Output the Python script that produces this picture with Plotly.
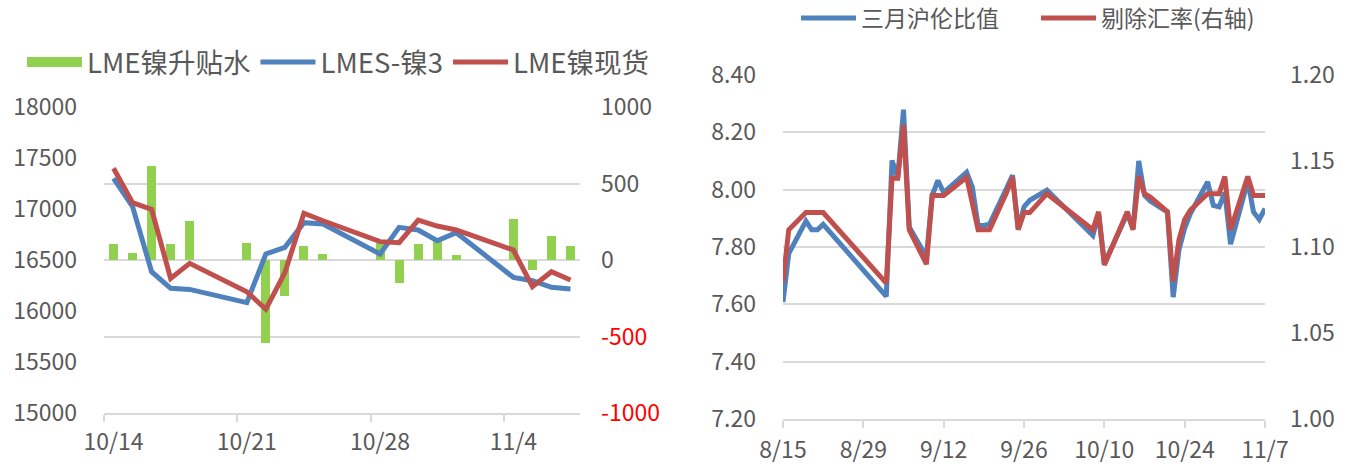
import datetime as _dt
import plotly.graph_objects as go

# ---------------- data: left chart ----------------
left_dates = ["2019-10-14", "2019-10-15", "2019-10-16", "2019-10-17", "2019-10-18",
              "2019-10-21", "2019-10-22", "2019-10-23", "2019-10-24", "2019-10-25",
              "2019-10-28", "2019-10-29", "2019-10-30", "2019-10-31", "2019-11-01",
              "2019-11-04", "2019-11-05", "2019-11-06", "2019-11-07"]
spread = [105, 46, 614, 105, 255, 113, -545, -235, 92, 39,
          110, -148, 105, 130, 33, 268, -65, 157, 92]
lmes3 = [17301, 17023, 16385, 16222, 16212, 16082, 16559, 16624, 16866, 16853,
         16559, 16820, 16794, 16689, 16768, 16330, 16297, 16232, 16216]
spot = [17399, 17062, 16997, 16320, 16467, 16189, 16017, 16376, 16958, 16885,
        16680, 16670, 16892, 16833, 16794, 16598, 16238, 16385, 16304]
left_tick_dates = ["2019-10-14", "2019-10-21", "2019-10-28", "2019-11-04"]
left_tick_text = ["10/14", "10/21", "10/28", "11/4"]
left_y_ticks = [15000, 15500, 16000, 16500, 17000, 17500, 18000]
spread_ticks = [-1000, -500, 0, 500, 1000]

# ---------------- data: right chart ----------------
right_dates = ["2019-08-15", "2019-08-16", "2019-08-19", "2019-08-20", "2019-08-21",
               "2019-08-22", "2019-09-02", "2019-09-03", "2019-09-04", "2019-09-05",
               "2019-09-06", "2019-09-09", "2019-09-10", "2019-09-11", "2019-09-12",
               "2019-09-16", "2019-09-17", "2019-09-18", "2019-09-19", "2019-09-20",
               "2019-09-23", "2019-09-24", "2019-09-25", "2019-09-26", "2019-09-27",
               "2019-09-30", "2019-10-08", "2019-10-09", "2019-10-10", "2019-10-14",
               "2019-10-15", "2019-10-16", "2019-10-17", "2019-10-18", "2019-10-21",
               "2019-10-22", "2019-10-23", "2019-10-24", "2019-10-25", "2019-10-28",
               "2019-10-29", "2019-10-30", "2019-10-31", "2019-11-01", "2019-11-04",
               "2019-11-05", "2019-11-06", "2019-11-07"]
ratio = [7.608, 7.777, 7.890, 7.860, 7.860, 7.879, 7.628, 8.102, 8.042, 8.279,
         7.870, 7.765, 7.980, 8.032, 7.990, 8.061, 8.009, 7.875, 7.875, 7.880,
         8.006, 8.050, 7.862, 7.940, 7.963, 7.998, 7.840, 7.915, 7.742, 7.916,
         7.865, 8.100, 7.980, 7.960, 7.922, 7.625, 7.790, 7.865, 7.917, 8.027,
         7.945, 7.940, 7.990, 7.810, 8.030, 7.922, 7.896, 7.934]
ex_fx = [1.080, 1.110, 1.120, 1.120, 1.120, 1.120, 1.079, 1.140, 1.140, 1.171,
         1.110, 1.090, 1.130, 1.130, 1.130, 1.1405, 1.126, 1.110, 1.110, 1.110,
         1.132, 1.1405, 1.110, 1.120, 1.120, 1.131, 1.110, 1.1205, 1.0895, 1.1205,
         1.110, 1.141, 1.131, 1.129, 1.1205, 1.080, 1.104, 1.116, 1.1215, 1.131,
         1.131, 1.131, 1.141, 1.110, 1.141, 1.130, 1.130, 1.130]
right_tick_dates = ["2019-08-15", "2019-08-29", "2019-09-12", "2019-09-26",
                    "2019-10-10", "2019-10-24", "2019-11-07"]
right_tick_text = ["8/15", "8/29", "9/12", "9/26", "10/10", "10/24", "11/7"]
ratio_ticks = [7.2, 7.4, 7.6, 7.8, 8.0, 8.2, 8.4]
fx_ticks = [1.00, 1.05, 1.10, 1.15, 1.20]

# ---------------- styles ----------------
W, H = 1357, 468
FONT = "Noto Sans CJK SC, Liberation Sans, sans-serif"
TXT = "#595959"
GRID = "#d9d9d9"
GREEN = "#92d050"
BLUE = "#4f81bd"
RED = "#c0504d"
FS = 23
LW = 5


def px_x(a, b):
    return [a / W, b / W]


def px_y(top, bottom):
    return [1 - bottom / H, 1 - top / H]


def mid(d):
    return (_dt.datetime.strptime(d, "%Y-%m-%d") + _dt.timedelta(hours=12)).strftime("%Y-%m-%d %H:%M")


left_x = [mid(d) for d in left_dates]

fig = go.Figure()

fig.add_trace(go.Bar(x=left_x, y=spread, name="LME镍升贴水", marker_color=GREEN,
                     marker_line_width=0, width=0.47 * 86400000,
                     xaxis="x", yaxis="y", showlegend=False))
# legend-only entry so the bar key is drawn as a wide block like the original
fig.add_trace(go.Scatter(x=[None], y=[None], name="LME镍升贴水", mode="lines",
                         line=dict(color=GREEN, width=18),
                         xaxis="x", yaxis="y", legend="legend"))
fig.add_trace(go.Scatter(x=left_x, y=lmes3, name="LMES-镍3", mode="lines",
                         line=dict(color=BLUE, width=LW),
                         xaxis="x", yaxis="y2", legend="legend"))
fig.add_trace(go.Scatter(x=left_x, y=spot, name="LME镍现货", mode="lines",
                         line=dict(color=RED, width=LW),
                         xaxis="x", yaxis="y2", legend="legend"))

fig.add_trace(go.Scatter(x=right_dates, y=ratio, name="三月沪伦比值", mode="lines",
                         line=dict(color=BLUE, width=LW),
                         xaxis="x2", yaxis="y3", legend="legend2"))
fig.add_trace(go.Scatter(x=right_dates, y=ex_fx, name="剔除汇率(右轴)", mode="lines",
                         line=dict(color=RED, width=LW),
                         xaxis="x2", yaxis="y4", legend="legend2"))

spread_text = []
for v in spread_ticks:
    if v < 0:
        spread_text.append('<span style="color:#ff0000">%d</span>' % v)
    else:
        spread_text.append(str(v))

tickfont = dict(family=FONT, size=FS, color=TXT)

fig.update_layout(
    template="none",
    width=W, height=H,
    margin=dict(l=0, r=0, t=0, b=0, autoexpand=False),
    paper_bgcolor="white", plot_bgcolor="white",
    font=dict(family=FONT, size=FS, color=TXT),
    bargap=0,
    showlegend=True,
    xaxis=dict(domain=px_x(104, 580), type="date", automargin=False,
               range=["2019-10-14", "2019-11-08"],
               tickmode="array", tickvals=[mid(d) for d in left_tick_dates],
               ticktext=left_tick_text, ticks="", ticklabelstandoff=7,
               showgrid=False, showline=True, linecolor=GRID, linewidth=2,
               tickfont=tickfont, zeroline=False,
               minor=dict(tickmode="array", tickvals=left_tick_dates,
                          ticks="outside", ticklen=7, tickcolor=GRID, tickwidth=1.5,
                          showgrid=False),
               anchor="y"),
    yaxis=dict(domain=px_y(107, 413), range=[-1000, 1000], automargin=False,
               tickmode="array", tickvals=spread_ticks, ticktext=spread_text,
               side="right", anchor="x", showgrid=True, gridcolor=GRID, gridwidth=2,
               zeroline=False, ticks="", ticklabelstandoff=20, tickfont=tickfont,
               showline=False),
    yaxis2=dict(range=[15000, 18000], tickmode="array", tickvals=left_y_ticks,
                tickformat="d", automargin=False,
                overlaying="y", side="left", anchor="x", showgrid=False,
                zeroline=False, ticks="", ticklabelstandoff=26, tickfont=tickfont),
    xaxis2=dict(domain=px_x(783, 1265), type="date", automargin=False,
                range=["2019-08-15", "2019-11-07"],
                tickmode="array", tickvals=right_tick_dates, ticktext=right_tick_text,
                ticks="outside", ticklen=7, tickcolor=GRID, tickwidth=1.5,
                ticklabelstandoff=2,
                showgrid=False, showline=True, linecolor=GRID, linewidth=2,
                tickfont=tickfont, zeroline=False, anchor="y3"),
    yaxis3=dict(domain=px_y(75, 419), range=[7.2, 8.4], tickmode="array",
                tickvals=ratio_ticks, tickformat=".2f", side="left", anchor="x2",
                automargin=False,
                showgrid=True, gridcolor=GRID, gridwidth=2, zeroline=False,
                ticks="", ticklabelstandoff=26, tickfont=tickfont),
    yaxis4=dict(range=[1.0, 1.2], tickmode="array", tickvals=fx_ticks,
                tickformat=".2f", overlaying="y3", side="right", anchor="x2",
                automargin=False,
                showgrid=False, zeroline=False, ticks="", ticklabelstandoff=24,
                tickfont=tickfont),
    legend=dict(orientation="h", x=22 / W, xanchor="left", y=1 - 62 / H,
                yanchor="middle", font=dict(family=FONT, size=27.5, color=TXT),
                bgcolor="rgba(0,0,0,0)", itemwidth=55, tracegroupgap=0),
    legend2=dict(orientation="h", x=796 / W, xanchor="left", y=1 - 18 / H,
                 yanchor="middle", font=dict(family=FONT, size=FS, color=TXT),
                 bgcolor="rgba(0,0,0,0)", itemwidth=55,
                 entrywidth=170, entrywidthmode="pixels"),
)

fig.write_html("out.html", config={"displayModeBar": False},
               post_script="document.body.style.margin='0px';")
